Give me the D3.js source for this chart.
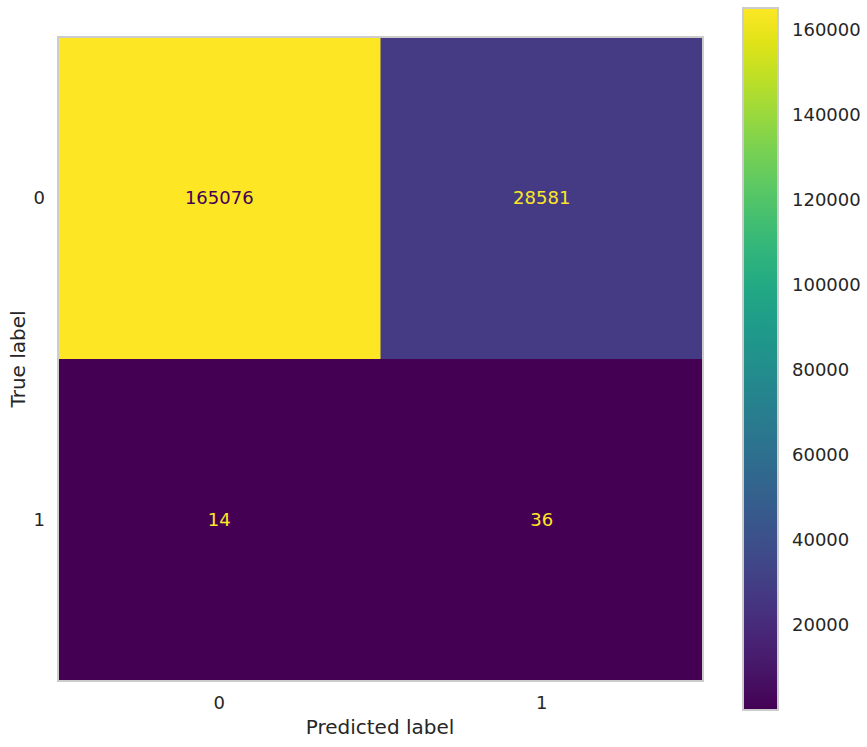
<!DOCTYPE html>
<html><head><meta charset="utf-8">
<script src="https://cdn.jsdelivr.net/npm/d3@7"></script>
<style>body{margin:0;background:#fff}text{font-family:"DejaVu Sans",sans-serif;fill:#262626}</style>
</head><body><svg id="c" width="867" height="747"></svg>
<script>
const trueLabels = ["0","1"];
const predLabels = ["0","1"];
const values = [[165076, 28581],[14, 36]];
const cbTicks = [20000,40000,60000,80000,100000,120000,140000,160000];

const svg = d3.select("#c");
const x = d3.scaleBand().domain(predLabels).range([58,703]);
const y = d3.scaleBand().domain(trueLabels).range([37,681]);
const flat = values.flat();
const vmin = d3.min(flat), vmax = d3.max(flat);
const color = d3.scaleSequential(d3.interpolateViridis).domain([vmin,vmax]);

const cells = [];
trueLabels.forEach((t,i)=>predLabels.forEach((p,j)=>cells.push({t,p,v:values[i][j]})));
svg.selectAll("rect.cell").data(cells).join("rect")
  .attr("x",d=>x(d.p)).attr("y",d=>y(d.t)).attr("width",x.bandwidth()+0.5).attr("height",y.bandwidth()+0.5)
  .attr("fill",d=>color(d.v));
svg.selectAll("text.val").data(cells).join("text")
  .attr("x",d=>x(d.p)+x.bandwidth()/2).attr("y",d=>y(d.t)+y.bandwidth()/2)
  .attr("text-anchor","middle").attr("dy","0.35em").style("font-size","18px")
  .style("fill",d=>d.v > (vmin+vmax)/2 ? "#440154" : "#fde725")
  .text(d=>d.v);
svg.append("rect").attr("x",58).attr("y",37).attr("width",645).attr("height",644)
  .attr("fill","none").attr("stroke","#cccccc").attr("stroke-width",2);

const xa = svg.append("g").attr("transform","translate(0,681)").call(d3.axisBottom(x).tickSize(0).tickPadding(15));
const ya = svg.append("g").attr("transform","translate(58,0)").call(d3.axisLeft(y).tickSize(0).tickPadding(13));
[xa,ya].forEach(a=>{a.select(".domain").remove();a.selectAll("text").style("font-size","18px").style("fill","#262626").style("font-family","DejaVu Sans");});
svg.append("text").attr("x",380).attr("y",734).attr("text-anchor","middle").style("font-size","20px").text("Predicted label");
svg.append("text").attr("transform","translate(25,359) rotate(-90)").attr("text-anchor","middle").style("font-size","20px").text("True label");

const cbx=743, cbw=35, cbTop=8, cbBot=710;
const cy = d3.scaleLinear().domain([vmin,vmax]).range([cbBot,cbTop]);
const defs = svg.append("defs");
const grad = defs.append("linearGradient").attr("id","g").attr("x1",0).attr("y1",1).attr("x2",0).attr("y2",0);
d3.range(0,1.001,0.05).forEach(s=>grad.append("stop").attr("offset",s).attr("stop-color",d3.interpolateViridis(s)));
svg.append("rect").attr("x",cbx).attr("y",cbTop).attr("width",cbw).attr("height",cbBot-cbTop).attr("fill","url(#g)")
  .attr("stroke","#cccccc").attr("stroke-width",2);
const ca = svg.append("g").attr("transform",`translate(${cbx+cbw},0)`).call(d3.axisRight(cy).tickValues(cbTicks).tickSize(0).tickPadding(14).tickFormat(d3.format("d")));
ca.select(".domain").remove();
ca.selectAll("text").style("font-size","18px").style("fill","#262626").style("font-family","DejaVu Sans");
</script></body></html>
